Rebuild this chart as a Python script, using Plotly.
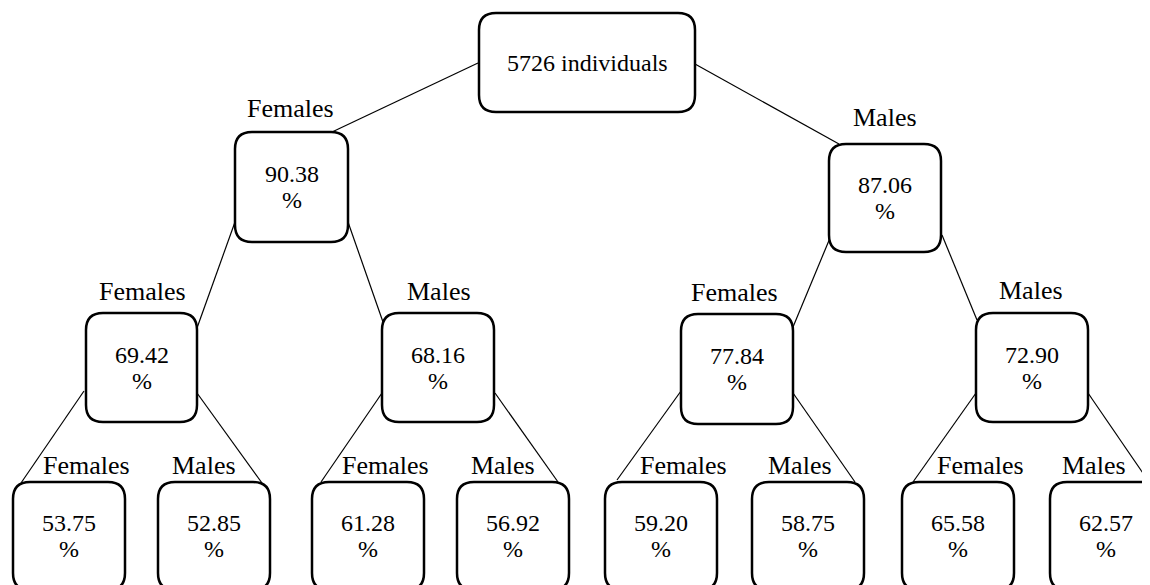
import plotly.graph_objects as go

# ---------------- data ----------------
root_text = "5726 individuals"
level1_groups = ["Females", "Males"]
level1_values = ["90.38", "87.06"]
level2_groups = ["Females", "Males", "Females", "Males"]
level2_values = ["69.42", "68.16", "77.84", "72.90"]
level3_groups = ["Females", "Males", "Females", "Males", "Females", "Males", "Females", "Males"]
level3_values = ["53.75", "52.85", "61.28", "56.92", "59.20", "58.75", "65.58", "62.57"]
unit = "%"

# ---------------- layout (pixel space of the page) ----------------
W, H = 1150, 585
OFF = 8  # default body margin of the written page
root_box = (479, 13, 695, 112)           # x0, y0, x1, y1
l1_boxes = [(235, 132, 348, 242), (829, 144, 941, 252)]
l2_boxes = [(86, 313, 197, 422), (382, 313, 494, 422), (681, 314, 793, 424), (976, 313, 1088, 422)]
l3_cx = [69, 214, 368, 513, 661, 808, 958, 1106]
l3_w, l3_top, l3_h = 112, 482, 108

l1_label_pos = [(290, 108), (885, 117)]
l2_label_pos = [(142, 291), (439, 291), (734, 292), (1031, 290)]
l3_label_pos = [(86, 465), (204, 465), (385, 465), (503, 465), (683, 465), (800, 465), (980, 465), (1094, 465)]

edges = [
    ((478, 63), (332, 132)), ((695, 64), (839, 144)),
    ((235, 222), (197, 328)), ((348, 222), (383, 322)),
    ((830, 238), (793, 327)), ((942, 235), (977, 320)),
    ((84, 391), (21, 483)), ((197, 393), (262, 483)),
    ((382, 393), (321, 482)), ((495, 393), (558, 482)),
    ((681, 391), (617, 480)), ((793, 393), (855, 482)),
    ((976, 393), (913, 482)), ((1088, 393), (1149, 482)),
]

FONT = "Liberation Serif"
BOX_FS = 24
LAB_FS = 26
R = 17


def rrect(x0, y0, x1, y1, r=R):
    return (f"M {x0+r},{y0} L {x1-r},{y0} Q {x1},{y0} {x1},{y0+r} "
            f"L {x1},{y1-r} Q {x1},{y1} {x1-r},{y1} L {x0+r},{y1} "
            f"Q {x0},{y1} {x0},{y1-r} L {x0},{y0+r} Q {x0},{y0} {x0+r},{y0} Z")


fig = go.Figure()

# connectors
xs, ys = [], []
for (a, b) in edges:
    xs += [a[0], b[0], None]
    ys += [a[1], b[1], None]
fig.add_trace(go.Scatter(x=xs, y=ys, mode="lines", line=dict(color="black", width=1.2),
                         hoverinfo="skip", showlegend=False))

shapes = []
annotations = []


def add_box(box, lines):
    x0, y0, x1, y1 = box
    shapes.append(dict(type="path", path=rrect(x0, y0, x1, y1), xref="x", yref="y",
                       line=dict(color="black", width=2.5), fillcolor="white", layer="above"))
    cx, cy = (x0 + x1) / 2, (y0 + y1) / 2
    if len(lines) == 1:
        annotations.append(dict(x=cx, y=cy, text=lines[0], showarrow=False, xref="x", yref="y",
                                font=dict(family=FONT, size=BOX_FS, color="black")))
    else:
        for t, dy in zip(lines, (-13, 13)):
            annotations.append(dict(x=cx, y=cy + dy, text=t, showarrow=False, xref="x", yref="y",
                                    font=dict(family=FONT, size=BOX_FS, color="black")))


def add_label(pos, text):
    annotations.append(dict(x=pos[0], y=pos[1], text=text, showarrow=False, xref="x", yref="y",
                            font=dict(family=FONT, size=LAB_FS, color="black")))


add_box(root_box, [root_text])
for b, v, g, p in zip(l1_boxes, level1_values, level1_groups, l1_label_pos):
    add_box(b, [v, unit])
    add_label(p, g)
for b, v, g, p in zip(l2_boxes, level2_values, level2_groups, l2_label_pos):
    add_box(b, [v, unit])
    add_label(p, g)
for cx, v, g, p in zip(l3_cx, level3_values, level3_groups, l3_label_pos):
    add_box((cx - l3_w / 2, l3_top, cx + l3_w / 2, l3_top + l3_h), [v, unit])
    add_label(p, g)

fig.update_layout(
    width=W - OFF, height=H - OFF,
    margin=dict(l=0, r=0, t=0, b=0),
    paper_bgcolor="white", plot_bgcolor="white",
    font=dict(family=FONT),
    xaxis=dict(range=[OFF, W], visible=False, fixedrange=True),
    yaxis=dict(range=[H, OFF], visible=False, fixedrange=True),
    shapes=shapes, annotations=annotations,
    showlegend=False,
)

fig.write_html("out.html", config={"displayModeBar": False})
